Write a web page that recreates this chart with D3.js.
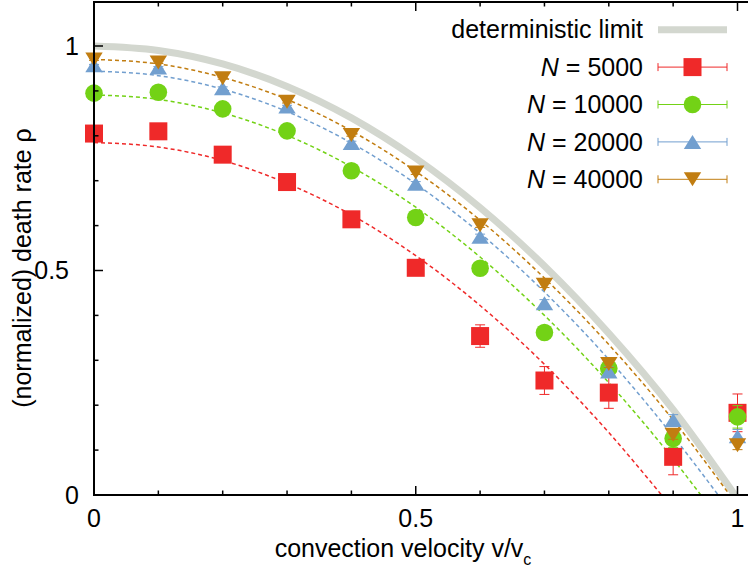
<!DOCTYPE html>
<html>
<head>
<meta charset="utf-8">
<script src="https://cdn.jsdelivr.net/npm/d3@7"></script>
<style>
  body { margin: 0; background: #fff; }
  svg { display: block; font-family: "Liberation Sans", Arial, sans-serif; }
</style>
</head>
<body>
<svg width="748" height="572"></svg>
<script>
  // measured points (v/vc vs normalized death rate)
  const vel = [0, 0.1, 0.2, 0.3, 0.4, 0.5, 0.6, 0.7, 0.8, 0.9, 1.0];
  const rho5000 = [0.805, 0.810, 0.758, 0.697, 0.614, 0.506, 0.354, 0.255, 0.228, 0.085, 0.183];
  const err5000 = [0.005, 0.005, 0.006, 0.007, 0.008, 0.012, 0.025, 0.031, 0.035, 0.040, 0.042];
  const rho10000 = [0.895, 0.897, 0.860, 0.811, 0.722, 0.618, 0.505, 0.362, 0.282, 0.126, 0.174];
  const err10000 = [0.003, 0.003, 0.004, 0.005, 0.006, 0.008, 0.010, 0.012, 0.015, 0.020, 0.025];
  const rho20000 = [0.957, 0.952, 0.906, 0.865, 0.784, 0.693, 0.575, 0.427, 0.275, 0.167, 0.131];
  const err20000 = [0.002, 0.002, 0.003, 0.003, 0.004, 0.005, 0.006, 0.008, 0.010, 0.012, 0.015];
  const rho40000 = [0.970, 0.963, 0.928, 0.876, 0.802, 0.718, 0.601, 0.468, 0.292, 0.134, 0.111];
  const err40000 = [0.002, 0.002, 0.002, 0.003, 0.003, 0.004, 0.005, 0.006, 0.008, 0.010, 0.010];

  // fitted (dashed) curves
  const fit5000V = [0, 0.1, 0.2, 0.3, 0.4, 0.5, 0.6, 0.7, 0.8, 0.882];
  const fit5000Rho = [0.785, 0.775, 0.745, 0.694, 0.624, 0.533, 0.422, 0.291, 0.139, 0];
  const fit10000V = [0, 0.1, 0.2, 0.3, 0.4, 0.5, 0.6, 0.7, 0.8, 0.9, 0.943];
  const fit10000Rho = [0.891, 0.881, 0.851, 0.801, 0.731, 0.641, 0.530, 0.400, 0.250, 0.080, 0];
  const fit20000V = [0, 0.1, 0.2, 0.3, 0.4, 0.5, 0.6, 0.7, 0.8, 0.9, 0.970];
  const fit20000Rho = [0.944, 0.934, 0.904, 0.854, 0.784, 0.693, 0.583, 0.452, 0.302, 0.131, 0];
  const fit40000V = [0, 0.1, 0.2, 0.3, 0.4, 0.5, 0.6, 0.7, 0.8, 0.9, 0.988];
  const fit40000Rho = [0.970, 0.960, 0.930, 0.881, 0.811, 0.721, 0.612, 0.483, 0.335, 0.167, 0];

  // deterministic limit
  const detV = [0, 0.1, 0.2, 0.3, 0.4, 0.5, 0.6, 0.7, 0.8, 0.9, 0.996];
  const detRho = [1, 0.99, 0.96, 0.91, 0.84, 0.75, 0.64, 0.51, 0.36, 0.19, 0];

  const xTicksMajor = [0, 0.5, 1];
  const yTicksMajor = [0, 0.5, 1];
  const tickMinor = [0.1, 0.2, 0.3, 0.4, 0.6, 0.7, 0.8, 0.9];

(function (d3) {
  'use strict';

  const series = [
    { label: '5000', rho: rho5000, err: err5000, fitV: fit5000V, fitRho: fit5000Rho, color: '#ef2929', shape: 'square' },
    { label: '10000', rho: rho10000, err: err10000, fitV: fit10000V, fitRho: fit10000Rho, color: '#73d216', shape: 'circle' },
    { label: '20000', rho: rho20000, err: err20000, fitV: fit20000V, fitRho: fit20000Rho, color: '#729fcf', shape: 'up' },
    { label: '40000', rho: rho40000, err: err40000, fitV: fit40000V, fitRho: fit40000Rho, color: '#c17d11', shape: 'down' }
  ];

  const svg = d3.select('svg');
  const left = 94, bottom = 495, padTop = 1.1;
  const fontSize = 25;

  const x = d3.scaleLinear().domain([0, 1]).range([left, 737.5]);
  const y = d3.scaleLinear().domain([0, 1.1]).range([bottom, padTop]);

  const plot = svg.append('g');
  plot.append('clipPath').attr('id', 'clip')
    .append('rect').attr('x', left).attr('y', 0).attr('width', 700).attr('height', bottom);

  // marker shapes
  const markerPath = (shape) => {
    if (shape === 'square') return 'M-9,-9H9V9H-9Z';
    if (shape === 'circle') return d3.symbol(d3.symbolCircle, Math.PI * 8.8 * 8.8)();
    if (shape === 'up') return 'M0,-7L8.7,7H-8.7Z';
    return 'M0,7L8.7,-7H-8.7Z';
  };

  const line = d3.line().curve(d3.curveMonotoneX).x(d => x(d[0])).y(d => y(d[1]));

  // deterministic limit
  plot.append('path')
    .attr('clip-path', 'url(#clip)')
    .attr('d', line(detV.map((v, i) => [v, detRho[i]])))
    .attr('fill', 'none')
    .attr('stroke', '#d3d7cf')
    .attr('stroke-width', 7);

  // dashed fits
  series.forEach(s => {
    plot.append('path')
      .attr('clip-path', 'url(#clip)')
      .attr('d', line(s.fitV.map((v, i) => [v, s.fitRho[i]])))
      .attr('fill', 'none')
      .attr('stroke', s.color)
      .attr('stroke-width', 1.5)
      .attr('stroke-dasharray', '4,3');
  });

  // points with error bars
  series.forEach(s => {
    const g = plot.append('g');
    const pts = vel.map((v, i) => ({ v, r: s.rho[i], e: s.err[i] }));
    const eb = g.selectAll('g.eb').data(pts).enter().append('g')
      .attr('stroke', s.color).attr('stroke-width', 1);
    eb.append('line')
      .attr('x1', d => x(d.v)).attr('x2', d => x(d.v))
      .attr('y1', d => y(d.r - d.e)).attr('y2', d => y(d.r + d.e));
    eb.append('line')
      .attr('x1', d => x(d.v) - 5).attr('x2', d => x(d.v) + 5)
      .attr('y1', d => y(d.r - d.e)).attr('y2', d => y(d.r - d.e));
    eb.append('line')
      .attr('x1', d => x(d.v) - 5).attr('x2', d => x(d.v) + 5)
      .attr('y1', d => y(d.r + d.e)).attr('y2', d => y(d.r + d.e));
    g.selectAll('path.pt').data(pts).enter().append('path')
      .attr('class', 'pt')
      .attr('d', markerPath(s.shape))
      .attr('transform', d => `translate(${x(d.v)},${y(d.r)})`)
      .attr('fill', s.color);
  });

  // frame
  svg.append('rect')
    .attr('x', left).attr('y', 2)
    .attr('width', 680).attr('height', bottom - 2)
    .attr('fill', 'none').attr('stroke', '#000').attr('stroke-width', 2);

  // ticks
  const ticks = svg.append('g').attr('stroke', '#000').attr('stroke-width', 1.5);
  const tickLen = d => (tickMinor.includes(d) ? 4.5 : 9);
  const allTicks = xTicksMajor.concat(tickMinor);
  allTicks.forEach(t => {
    ticks.append('line').attr('x1', x(t)).attr('x2', x(t)).attr('y1', bottom).attr('y2', bottom - tickLen(t));
    ticks.append('line').attr('x1', x(t)).attr('x2', x(t)).attr('y1', 2).attr('y2', 2 + tickLen(t));
    ticks.append('line').attr('y1', y(t)).attr('y2', y(t)).attr('x1', left).attr('x2', left + tickLen(t));
  });

  const fmt = d => (d === 0.5 ? '0.5' : d3.format('d')(d));

  svg.append('g').selectAll('text').data(xTicksMajor).enter().append('text')
    .attr('x', d => x(d)).attr('y', 527)
    .attr('text-anchor', 'middle')
    .attr('font-size', fontSize)
    .text(fmt);

  svg.append('g').selectAll('text').data(yTicksMajor).enter().append('text')
    .attr('x', 79).attr('y', d => y(d))
    .attr('dx', d => (d % 1 ? -10 : 0))
    .attr('dy', '0.35em')
    .attr('text-anchor', 'end')
    .attr('font-size', fontSize)
    .text(fmt);

  // axis titles
  const xt = svg.append('text')
    .attr('x', 403).attr('y', 557)
    .attr('text-anchor', 'middle')
    .attr('font-size', fontSize);
  xt.append('tspan').text('convection velocity v/v');
  xt.append('tspan').attr('font-size', 16).attr('dy', 8).text('c');

  svg.append('text')
    .attr('transform', 'translate(31,268) rotate(-90)')
    .attr('text-anchor', 'middle')
    .attr('font-size', fontSize)
    .text('(normalized) death rate ρ');

  // legend
  const legend = svg.append('g');
  const rowY = i => 29.7 + i * 37.4;
  const lx0 = 658, lx1 = 727, lxm = (lx0 + lx1) / 2;

  legend.append('text')
    .attr('x', 643).attr('y', rowY(0)).attr('dy', '0.35em')
    .attr('text-anchor', 'end').attr('font-size', fontSize)
    .text('deterministic limit');
  legend.append('line')
    .attr('x1', lx0).attr('x2', lx1).attr('y1', rowY(0)).attr('y2', rowY(0))
    .attr('stroke', '#d3d7cf').attr('stroke-width', 7);

  series.forEach((s, i) => {
    const yy = rowY(i + 1);
    const t = legend.append('text')
      .attr('x', 643).attr('y', yy).attr('dy', '0.35em')
      .attr('text-anchor', 'end').attr('font-size', fontSize);
    t.append('tspan').attr('font-style', 'italic').text('N');
    t.append('tspan').text(' = ' + s.label);
    const lg = legend.append('g').attr('stroke', s.color).attr('stroke-width', 1);
    lg.append('line').attr('x1', lx0).attr('x2', lx1).attr('y1', yy).attr('y2', yy);
    lg.append('line').attr('x1', lx0).attr('x2', lx0).attr('y1', yy - 4).attr('y2', yy + 4);
    lg.append('line').attr('x1', lx1).attr('x2', lx1).attr('y1', yy - 4).attr('y2', yy + 4);
    legend.append('path')
      .attr('d', markerPath(s.shape))
      .attr('transform', `translate(${lxm},${yy})`)
      .attr('fill', s.color);
  });
}(d3));
</script>
</body>
</html>
